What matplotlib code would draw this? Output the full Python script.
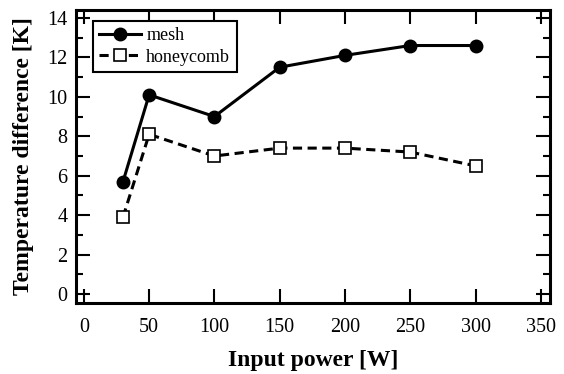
import matplotlib
matplotlib.use("Agg")
import matplotlib.pyplot as plt
from matplotlib.ticker import MultipleLocator

power = [30, 50, 100, 150, 200, 250, 300]
mesh = [5.7, 10.1, 9.0, 11.5, 12.1, 12.6, 12.6]
honeycomb = [3.9, 8.1, 7.0, 7.4, 7.4, 7.2, 6.5]

plt.rcParams['font.family'] = ['Liberation Serif', 'DejaVu Serif']

fig = plt.figure(figsize=(5.64, 3.74), dpi=100)
ax = fig.add_axes([76/564, 1-303/374, (550-76)/564, (303-10)/374])

ax.plot(power, mesh, '-', color='black', lw=2.2, marker='o', ms=9,
        mfc='black', mec='black', label='mesh')
ax.plot(power, honeycomb, '--', color='black', lw=2.2, dashes=(3, 1.8),
        marker='s', ms=8.5, mfc='white', mec='black', mew=1.2, label='honeycomb')

ax.set_xlim(-6, 357)
ax.set_ylim(-0.45, 14.4)
ax.xaxis.set_major_locator(MultipleLocator(50))
ax.yaxis.set_major_locator(MultipleLocator(2))
ax.yaxis.set_minor_locator(MultipleLocator(1))
ax.tick_params(which='major', direction='in', top=True, right=True,
               length=10, width=1.5, labelsize=14.5, pad=6)
ax.tick_params(axis='x', which='major', pad=11)
ax.tick_params(which='minor', direction='in', top=True, right=True,
               length=5, width=1.5)
for s in ax.spines.values():
    s.set_linewidth(2.2)

ax.set_xlabel('Input power [W]', fontsize=17, fontweight='bold', labelpad=9)
ax.set_ylabel('Temperature difference [K]', fontsize=17, fontweight='bold', labelpad=10)

leg = ax.legend(loc='upper left', fontsize=13, frameon=True, fancybox=False,
                edgecolor='black', handlelength=2.3, borderpad=0.35,
                labelspacing=0.25, handletextpad=0.3, borderaxespad=0,
                bbox_to_anchor=(0.036, 0.963))
leg.get_frame().set_linewidth(1.5)
leg.get_frame().set_alpha(1)

fig.savefig('out.png', dpi=100)
